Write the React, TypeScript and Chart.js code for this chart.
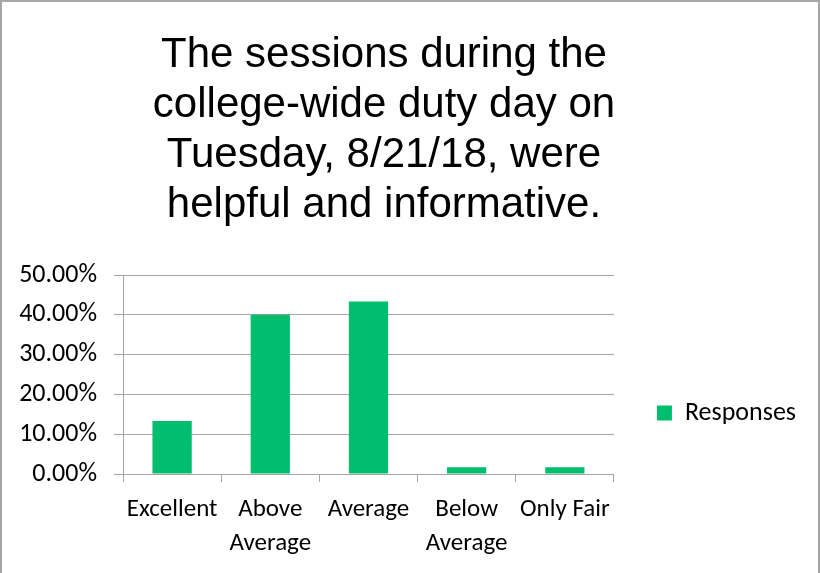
import React, { useEffect, useRef } from "react";
import { Chart, registerables } from "chart.js";

Chart.register(...registerables);

const categories: (string | string[])[] = [
  "Excellent",
  ["Above", "Average"],
  "Average",
  ["Below", "Average"],
  "Only Fair",
];
const responses: number[] = [0.1333, 0.4, 0.4333, 0.0167, 0.0167];
const seriesLabel = "Responses";
const titleLines: string[] = [
  "The sessions during the",
  "college-wide duty day on",
  "Tuesday, 8/21/18, were",
  "helpful and informative.",
];

const LABEL_FONT = "Carlito, Calibri, Lato, 'Noto Sans', sans-serif";

const framePlugin = {
  id: "frame",
  afterLayout(chart: any) {
    const t = chart.titleBlock;
    if (t) {
      t.left -= 28;
      t.right -= 28;
    }
  },
  afterDraw(chart: any) {
    const { ctx, width } = chart;
    ctx.save();
    ctx.fillStyle = "#A6A6A6";
    ctx.fillRect(0, 0, width, 2);
    ctx.fillRect(0, 0, 2, chart.height);
    ctx.fillRect(width - 2, 0, 2, chart.height);
    ctx.restore();
  },
};

export default function App() {
  const ref = useRef<HTMLCanvasElement | null>(null);
  useEffect(() => {
    document.body.style.margin = "0";
    if (!ref.current) return;
    const chart = new Chart(ref.current, {
      type: "bar",
      data: {
        labels: categories as any,
        datasets: [
          {
            label: seriesLabel,
            data: responses,
            backgroundColor: "#00BE6E",
            borderWidth: 0,
            categoryPercentage: 1,
            barPercentage: 0.4,
          },
        ],
      },
      options: {
        animation: false,
        responsive: true,
        maintainAspectRatio: false,
        layout: { padding: { left: 18, right: 14, top: 0, bottom: 0 } },
        plugins: {
          title: {
            display: true,
            text: titleLines,
            color: "#000",
            font: { family: "'Liberation Sans', Arial, sans-serif", size: 42, weight: "normal", lineHeight: 50 / 42 },
            padding: { top: 30, bottom: 45 },
          },
          legend: {
            position: "right",
            align: "start",
            title: { display: true, text: " ", padding: { top: 345, bottom: 0 }, font: { size: 10 } },
            labels: {
              boxWidth: 15,
              boxHeight: 15,
              color: "#000",
              font: { family: LABEL_FONT, size: 26 },
              padding: 43,
            },
          },
          tooltip: { enabled: false },
        },
        scales: {
          x: {
            offset: true,
            afterFit: (s: any) => {
              s.height = 99;
            },
            grid: {
              display: true,
              drawOnChartArea: false,
              offset: true,
              tickLength: 8,
              color: "#A6A6A6",
              lineWidth: 1,
            },
            border: { color: "#A6A6A6" },
            ticks: {
              color: "#000",
              font: { family: LABEL_FONT, size: 25, lineHeight: 34 / 25 },
              padding: 11,
              maxRotation: 0,
              autoSkip: false,
            },
          },
          y: {
            min: 0,
            max: 0.5,
            afterFit: (s: any) => {
              s.width = 105;
            },
            grid: { color: "#A6A6A6", tickLength: 9, lineWidth: 1 },
            border: { color: "#A6A6A6" },
            ticks: {
              stepSize: 0.1,
              color: "#000",
              font: { family: LABEL_FONT, size: 26 },
              padding: 17,
              callback: (v: any) => (Number(v) * 100).toFixed(2) + "%",
            },
          },
        },
      },
      plugins: [framePlugin],
    });
    return () => chart.destroy();
  }, []);
  return (
    <div style={{ width: 820, height: 573, position: "relative" }}>
      <canvas ref={ref} style={{ display: "block" }} />
    </div>
  );
}
